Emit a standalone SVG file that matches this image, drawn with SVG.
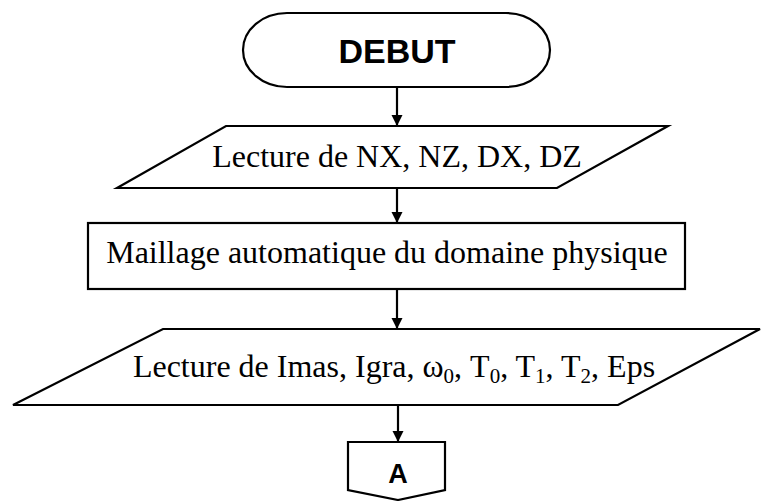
<svg xmlns="http://www.w3.org/2000/svg" width="763" height="501" viewBox="0 0 763 501">
<style>
.shape{fill:#fff;stroke:#000;stroke-width:2.2}
.conn{stroke:#000;stroke-width:2.2;fill:none}
.serif{font-family:"Liberation Serif","Times New Roman",serif;font-size:32px;fill:#000}
.sans{font-family:"Liberation Sans",Arial,sans-serif;font-weight:bold;fill:#000}
</style>
<defs>
<marker id="ah" viewBox="0 0 10 10" refX="10" refY="5" markerWidth="11" markerHeight="13" markerUnits="userSpaceOnUse" orient="auto">
<path d="M0,0 L10,5 L0,10 z" fill="#000"/>
</marker>
</defs>
<rect width="763" height="501" fill="#fff"/>
<g id="debut">
<rect class="shape" x="243" y="13" width="307" height="74" rx="44" ry="37"/>
<text class="sans" x="397" y="63" font-size="34" text-anchor="middle">DEBUT</text>
</g>
<g id="lecture1">
<polygon class="shape" points="117,188 226,126 668,126 557,188"/>
<text class="serif" x="397" y="167" text-anchor="middle">Lecture de NX, NZ, DX, DZ</text>
</g>
<g id="maillage">
<rect class="shape" x="88" y="223" width="597" height="66"/>
<text class="serif" x="387" y="263" text-anchor="middle">Maillage automatique du domaine physique</text>
</g>
<g id="lecture2">
<polygon class="shape" points="13,405 163,329 760,329 618,405"/>
<text class="serif" x="394" y="377" text-anchor="middle">Lecture de Imas, Igra, ω<tspan font-size="21" dy="6">0</tspan><tspan dy="-6">, T</tspan><tspan font-size="21" dy="6">0</tspan><tspan dy="-6">, T</tspan><tspan font-size="21" dy="6">1</tspan><tspan dy="-6">, T</tspan><tspan font-size="21" dy="6">2</tspan><tspan dy="-6">, Eps</tspan></text>
</g>
<g id="connecteurA">
<polygon class="shape" points="348,442 445,442 445,490 398,500 348,490"/>
<text class="sans" x="398" y="483" font-size="27" text-anchor="middle">A</text>
</g>
<g id="connectors">
<line class="conn" x1="397" y1="87" x2="397" y2="126" marker-end="url(#ah)"/>
<line class="conn" x1="397" y1="188" x2="397" y2="223" marker-end="url(#ah)"/>
<line class="conn" x1="397" y1="289" x2="397" y2="329" marker-end="url(#ah)"/>
<line class="conn" x1="398" y1="405" x2="398" y2="442" marker-end="url(#ah)"/>
</g>
</svg>
